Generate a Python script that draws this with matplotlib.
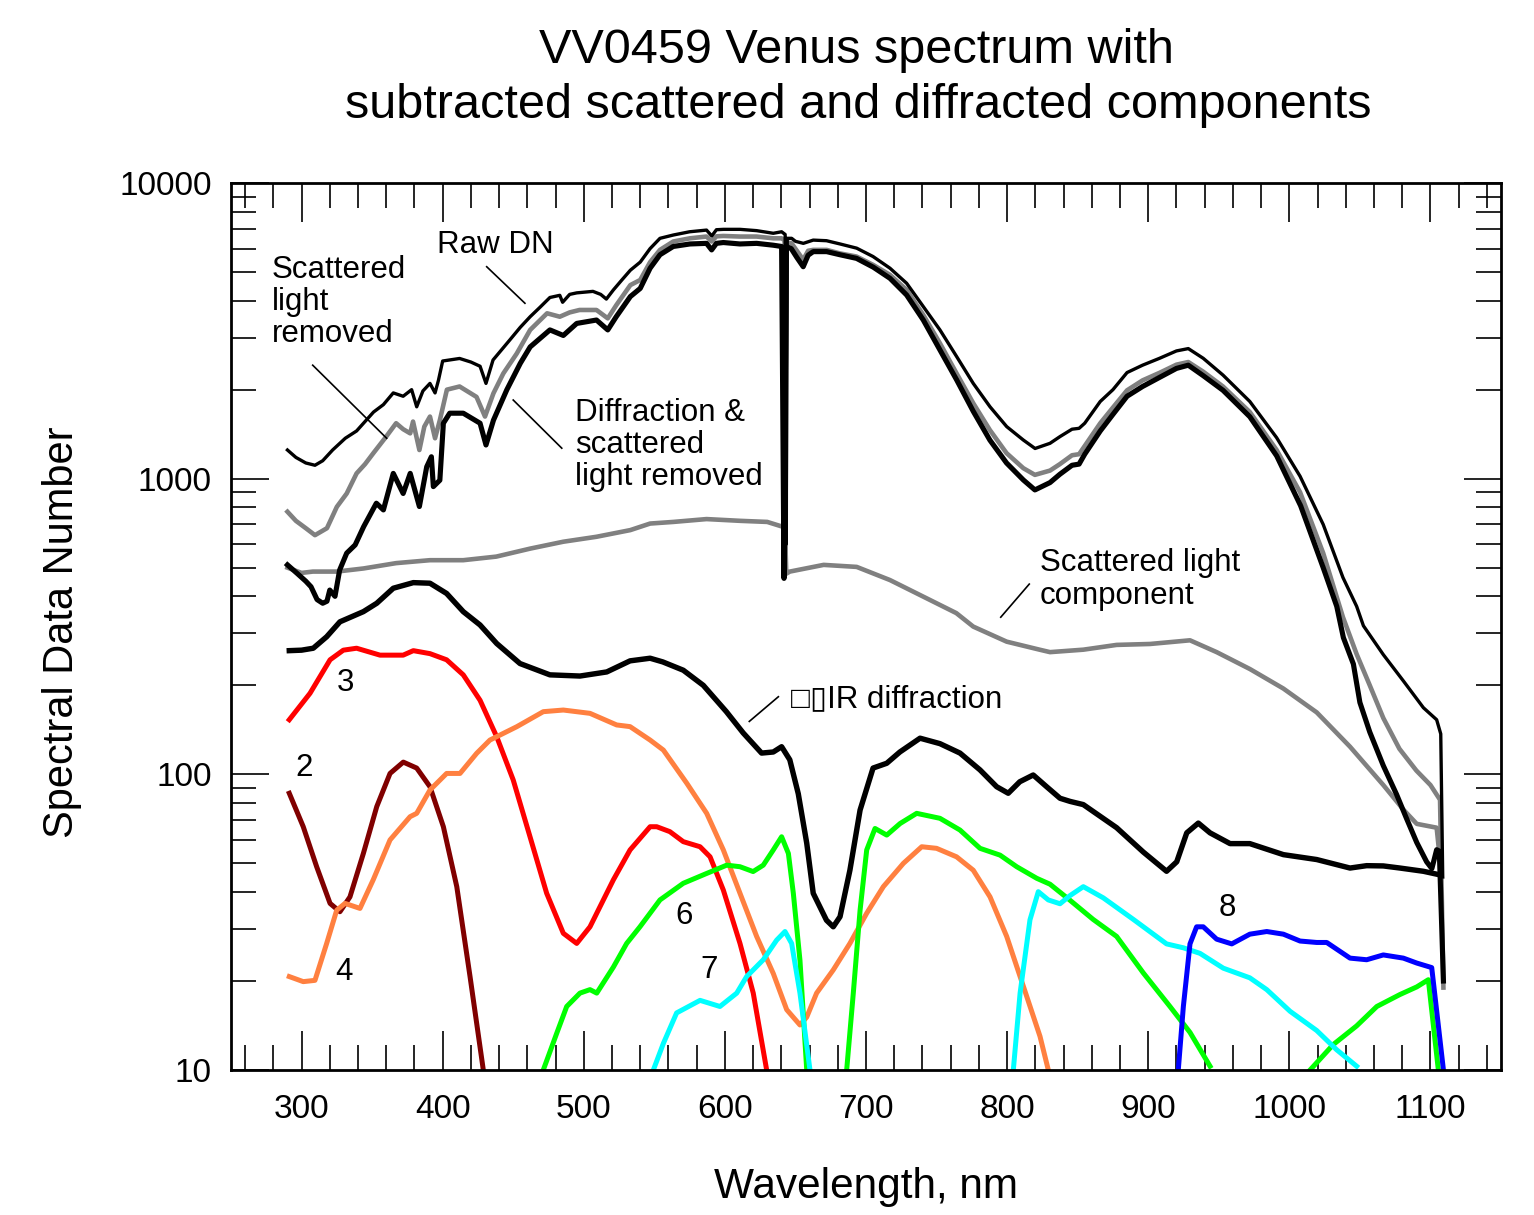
import matplotlib
matplotlib.use("Agg")
import matplotlib.pyplot as plt
from matplotlib.ticker import MultipleLocator, LogLocator, FuncFormatter, NullFormatter

plt.rcParams['font.family'] = ['Liberation Sans', 'DejaVu Sans']

# ---- spectra (wavelength nm, DN) ----
raw_wl = [290, 296, 303, 309.5, 315, 322, 331, 339, 351, 358, 365, 372, 378, 381.6, 386, 391, 394.6, 397,
          400, 412, 420, 426.5, 430.7, 435.7, 447.7, 455, 462, 469, 476, 483, 485, 490, 495, 506.5, 512, 516,
          521, 527, 533, 540, 547, 554, 563.5, 575, 587, 590.7, 594, 599, 610.7, 622.5, 634.3, 640.2, 642.7,
          643.4, 644.2, 647.3, 650, 655.6, 662.6, 672, 681.6, 693.4, 705, 717, 728.8, 740.6, 752.4, 764.3,
          776, 787.9, 799.7, 811.5, 819.8, 830.4, 837.5, 846, 851, 855, 866, 875, 885, 896, 908, 920, 928.4,
          939, 953, 972, 991, 1007.6, 1024, 1038, 1047.7, 1052.5, 1066.6, 1080.8, 1095, 1104.4, 1107.3, 1108.7]
raw_dn = [1250, 1180, 1130, 1110, 1150, 1250, 1370, 1450, 1680, 1780, 1950, 1900, 2000, 1750, 1980, 2100, 1950,
          2150, 2500, 2550, 2480, 2400, 2100, 2520, 2950, 3250, 3530, 3800, 4100, 4170, 3950, 4200, 4250, 4300,
          4200, 4050, 4350, 4700, 5070, 5400, 6000, 6500, 6670, 6840, 6930, 6620, 6950, 6970, 6970, 6900, 6760,
          6840, 6700, 600, 6500, 6500, 6350, 6250, 6410, 6380, 6220, 6020, 5640, 5150, 4580, 3820, 3185, 2585,
          2100, 1750, 1500, 1351, 1265, 1317, 1388, 1470, 1480, 1540, 1824, 2000, 2285, 2420, 2553, 2704, 2754,
          2553, 2240, 1824, 1376, 1019, 700, 463, 370, 318, 254, 207, 168, 153, 137, 45]

scat_removed_wl = [290, 296, 303, 309.5, 318, 325, 332, 339, 345, 351, 360, 367, 372, 377, 379, 383.5, 387, 391,
                   394.6, 398, 403, 412, 424, 430, 436, 443, 452.5, 462, 474, 483, 490, 497, 509, 517, 523, 533,
                   540, 547, 554, 563.4, 575.2, 587, 590.6, 594, 598.9, 610.7, 622.5, 634.3, 640.2, 642.3, 643,
                   643.8, 647.3, 651, 655.5, 659, 662.6, 672.1, 681.5, 693.3, 705.2, 717, 728.8, 740.6, 752.4,
                   764.2, 776, 787.8, 799.6, 811.5, 819.7, 830.4, 837.4, 846, 851, 855, 866, 875, 885, 896, 908,
                   920, 928.4, 939, 953, 972, 991, 1007.6, 1024, 1038, 1047.7, 1057, 1066.6, 1078, 1090, 1100,
                   1106.8, 1109.2]
scat_removed_dn = [773, 720, 680, 644, 680, 803, 891, 1042, 1120, 1222, 1388, 1540, 1470, 1423, 1560, 1250, 1500,
                   1622, 1370, 1577, 2000, 2050, 1890, 1622, 1945, 2270, 2650, 3185, 3625, 3530, 3650, 3720, 3720,
                   3485, 3860, 4515, 4700, 5400, 5940, 6340, 6500, 6590, 6340, 6600, 6620, 6590, 6590, 6500, 6500,
                   6400, 520, 6300, 6250, 5900, 5500, 5900, 5940, 5940, 5780, 5640, 5280, 4890, 4350, 3580, 2870,
                   2270, 1800, 1460, 1220, 1085, 1030, 1065, 1120, 1200, 1210, 1290, 1540, 1740, 1990, 2150, 2280,
                   2430, 2480, 2300, 2050, 1680, 1250, 900, 560, 340, 255, 200, 155, 122, 103, 92, 82, 19]

both_removed_wl = [290, 296.7, 303, 306.7, 311, 315, 318, 320, 323.7, 327, 332, 338, 344, 353, 358, 365, 372,
                   377, 383.5, 388.7, 392, 393.4, 398, 400.5, 405, 414.6, 426.5, 430.7, 436, 445.5, 455, 462,
                   476, 485.5, 495, 509, 517, 523, 533, 540, 547, 554, 563.4, 575.2, 587, 590.6, 594, 598.9,
                   610.7, 622.5, 634.3, 640.2, 641.9, 643.5, 647, 651, 655.5, 659, 662.6, 672.1, 681.5, 693.3,
                   705.2, 717, 728.8, 740.6, 752.4, 764.2, 776, 787.8, 799.6, 811.5, 819.7, 830.4, 837.4, 846,
                   851, 855, 866, 875, 885, 896, 908, 920, 928.4, 939, 953, 972, 991, 1008, 1024, 1033.6, 1038.3,
                   1045.4, 1050, 1057, 1066.6, 1076, 1083, 1090.3, 1097.3, 1101, 1104.4, 1106.3, 1109.2]
both_removed_dn = [511, 479, 450, 431, 390, 379, 385, 420, 400, 491, 560, 597, 688, 826, 784, 1042, 891, 1042,
                   805, 1097, 1186, 940, 988, 1540, 1665, 1665, 1540, 1300, 1577, 2000, 2455, 2790, 3185, 3050,
                   3350, 3440, 3185, 3530, 4130, 4400, 5150, 5720, 6100, 6220, 6250, 5940, 6250, 6290, 6220, 6250,
                   6160, 6100, 460, 6100, 6000, 5600, 5210, 5700, 5860, 5860, 5720, 5560, 5190, 4760, 4180, 3440,
                   2725, 2160, 1690, 1350, 1130, 990, 916, 970, 1035, 1110, 1120, 1210, 1450, 1650, 1900, 2050,
                   2200, 2360, 2420, 2230, 1990, 1620, 1195, 810, 500, 370, 290, 236, 175, 139, 107, 85.5, 71,
                   58.8, 50.6, 48, 55.6, 55, 20]

scat_comp_wl = [290, 300, 308, 325, 344, 367, 391, 414.6, 438, 462, 485.5, 509, 533, 547, 563.5, 587, 611, 630,
                640, 642.5, 643.5, 646, 670, 693.4, 717, 740.6, 764, 776, 799.7, 823, 830.4, 854, 877.6, 901.3,
                929.6, 948.5, 972.1, 995.8, 1019.4, 1043, 1066.6, 1080.8, 1090.3, 1104.4, 1108]
scat_comp_dn = [500, 480, 485, 485, 497, 518, 530, 530, 545, 580, 612, 636, 670, 705, 714, 730, 720, 714, 690,
                697, 477, 485, 511, 503, 454, 399, 351, 316, 281, 264, 259, 264, 274, 276, 284, 259, 227, 195,
                162, 124, 92, 76, 68, 66, 45]

ir_diff_wl = [291.3, 300, 308.3, 317.8, 327.2, 343.8, 353.3, 365, 379.2, 391, 402.8, 414.6, 426.5, 438.3, 454.8,
              476, 497.3, 516.3, 532.8, 547, 556, 570.5, 584.7, 601, 613, 626, 634.3, 640.2, 646, 652, 658,
              662.6, 672, 676.8, 681.6, 688.6, 695.8, 705, 714.7, 724, 738.3, 752.4, 766.6, 780.8, 792.6, 800.8,
              809, 818.5, 828, 837.5, 844.6, 854, 877.6, 896.5, 913, 920.2, 927.3, 935.5, 943.8, 958, 972, 995.8,
              1019.4, 1043, 1054.8, 1066.6, 1078.4, 1095, 1104]
ir_diff_dn = [262, 263, 267, 292, 328, 355, 379, 426, 445, 443, 409, 355, 320, 277, 237, 217, 215, 222, 242,
              247, 240, 225, 200, 163, 138, 118, 119, 124, 112, 86, 58.5, 39.6, 32.1, 30.5, 33, 47.4, 75.7, 105,
              109, 119, 132.5, 127, 118, 103.5, 90.8, 86.3, 94.4, 99.5, 90.8, 83, 81, 79, 66, 54.6, 47, 50.6,
              63.4, 68.4, 63.4, 58.3, 58.3, 53.5, 51.5, 48.2, 49.1, 49, 48.2, 47, 46]

# ---- individual diffraction orders ----
o2_wl = [291.3, 301.2, 310.7, 320.2, 327.2, 334.3, 343.8, 353.3, 362.7, 372.1, 381.6, 391, 400.5, 410, 419.4, 428.8]
o2_dn = [86.3, 66.5, 48.7, 36.6, 34.3, 38.5, 54, 77.8, 100.7, 110, 105, 90.8, 66.5, 41.7, 20.7, 10]

o3_wl = [291.3, 306, 320.2, 329.6, 339, 355.6, 372, 379.2, 391, 402.8, 414.6, 426.5, 438.3, 450, 461.9, 473.7,
         485.5, 495, 504.4, 521, 532.8, 547, 551.7, 561, 570.5, 582.4, 589.5, 598.9, 610.7, 620.1, 629.6]
o3_dn = [153, 188, 244, 263, 267, 253, 253, 262, 256, 244, 217, 178, 134, 95.7, 61.5, 39.6, 29, 26.8, 30.5, 44,
         55.5, 66.5, 66.5, 64, 59.2, 56.9, 52.6, 40.6, 26.8, 18.2, 10]

o4_wl = [291.3, 301.2, 309.5, 317.8, 324.9, 330.8, 341.4, 350.8, 362.7, 376.9, 381.6, 391, 402.8, 412.3, 424.1,
         433.5, 452.5, 471.3, 485.5, 504.4, 523.3, 532.8, 547, 556.4, 573, 587.1, 598.9, 610.7, 622.5, 634.3,
         643.8, 653.2, 658, 665, 676.8, 688.6, 700.5, 712.3, 726.5, 739.5, 750, 764.2, 776, 787.9, 799.7, 811.5,
         823.3, 829.2]
o4_dn = [20.7, 19.9, 20.1, 26.8, 34.7, 36.6, 35.2, 44, 60, 71.9, 73.8, 88.5, 100.7, 100.7, 117.8, 130.6, 144.9,
         162.9, 165, 160.8, 146.9, 145, 130.6, 120.8, 93.3, 73.8, 55.5, 39.6, 28.3, 21.2, 16, 14.2, 15.1, 18.2,
         21.8, 26.8, 33.9, 41.7, 50, 56.9, 56.2, 52.6, 47.4, 38.5, 28.3, 19.2, 13, 10]

green_a_wl = [471.3, 480.8, 487.9, 497.3, 504.4, 509.2, 521, 530.4, 539.8, 554, 570.5, 587, 601.3, 610.7, 620,
              627.2, 634.3, 640.2, 645, 648.5, 653.2, 658]
green_a_dn = [10, 13.3, 16.4, 18.2, 18.7, 18.2, 22.3, 26.8, 30.5, 37.6, 42.8, 46.2, 49.3, 48.7, 46.9, 49.3, 55.5,
              61.5, 54, 39.6, 23.5, 10]
green_b_wl = [686.3, 691, 695.8, 700.5, 706.4, 714.7, 724.2, 735.9, 752.4, 766.6, 780.8, 795, 806.8, 821, 830.4,
              844.6, 861, 877.6, 896.5, 915.4, 929.6, 943.8]
green_b_dn = [10, 18.2, 34.7, 55.5, 65.6, 62.3, 68.2, 73.8, 71, 64.8, 56.2, 53.3, 48.7, 44.5, 42.5, 37.5, 32.3,
              28.3, 21.3, 16.4, 13.4, 10.3]
green_c_wl = [1014.7, 1031.2, 1047.7, 1062, 1078.4, 1090.3, 1098.5, 1105.6]
green_c_dn = [10, 12.2, 14.1, 16.4, 18, 19.1, 20.2, 10]

cyan_a_wl = [549.3, 556.4, 565.8, 582.4, 596.5, 608.4, 615.4, 627.2, 636.7, 642.6, 647.3, 653.2, 660.3]
cyan_a_dn = [10, 12.3, 15.6, 17.2, 16.4, 18.2, 20.7, 23.6, 27.5, 29.4, 26.8, 18.2, 10]
cyan_b_wl = [804.4, 809.2, 816.2, 822.1, 829.2, 837.5, 844.6, 854, 868.2, 889.5, 913, 924.9, 936.7, 953.2, 972,
             984, 1000.5, 1019.4, 1033.6, 1047.7]
cyan_b_dn = [10, 18.2, 32.2, 40.1, 37.6, 36.5, 38.9, 41.7, 38.2, 32.3, 26.7, 25.9, 24.8, 22.1, 20.5, 18.7, 15.8,
             13.6, 11.7, 10.3]

blue_wl = [921.3, 924.9, 929.6, 934.3, 939, 948.5, 959.2, 972, 984, 995.8, 1007.6, 1019.4, 1026.5, 1043, 1054.8,
           1066.6, 1080.8, 1090.3, 1100.9, 1109.2]
blue_dn = [10, 16.4, 26.7, 30.5, 30.5, 27.7, 26.7, 28.8, 29.4, 28.8, 27.3, 27, 27, 23.9, 23.6, 24.5, 23.9, 23,
           22.2, 10]

order_labels = ["2", "3", "4", "6", "7", "8"]
order_label_wl = [301.7, 330.8, 330.1, 571, 588.7, 955.8]
order_label_dn = [105, 204, 21.4, 33.2, 21.8, 35.3]

fig = plt.figure(figsize=(15.34, 12.15), dpi=100)
ax = fig.add_axes([231 / 1534, 145 / 1215, 1270 / 1534, 887 / 1215])

comp_lw = 3.6
for wl, dn, col in [(o2_wl, o2_dn, "#800000"), (o3_wl, o3_dn, "#ff0000"), (o4_wl, o4_dn, "#ff8040"),
                    (green_a_wl, green_a_dn, "#00ff00"), (green_b_wl, green_b_dn, "#00ff00"),
                    (green_c_wl, green_c_dn, "#00ff00"), (cyan_a_wl, cyan_a_dn, "#00ffff"),
                    (cyan_b_wl, cyan_b_dn, "#00ffff"), (blue_wl, blue_dn, "#0000ff")]:
    ax.plot(wl, dn, color=col, lw=comp_lw, solid_joinstyle="round")

ax.plot(ir_diff_wl, ir_diff_dn, color="k", lw=3.9, solid_joinstyle="round")
ax.plot(scat_comp_wl, scat_comp_dn, color="#808080", lw=3.3)
ax.plot(scat_removed_wl, scat_removed_dn, color="#808080", lw=3.3)
ax.plot(both_removed_wl, both_removed_dn, color="k", lw=3.7)
ax.plot(raw_wl, raw_dn, color="k", lw=2.4)

ax.set_yscale("log")
ax.set_xlim(250, 1150)
ax.set_ylim(10, 10000)
ax.xaxis.set_major_locator(MultipleLocator(100))
ax.xaxis.set_minor_locator(MultipleLocator(20))
ax.yaxis.set_major_locator(LogLocator(base=10))
ax.yaxis.set_minor_locator(LogLocator(base=10, subs=range(2, 10)))
ax.yaxis.set_major_formatter(FuncFormatter(lambda v, p: f"{v:.0f}"))
ax.yaxis.set_minor_formatter(NullFormatter())
ax.tick_params(which="both", direction="in", top=True, right=True, width=1.2, labelsize=24)
ax.tick_params(axis="x", which="major", length=28, pad=17)
ax.tick_params(axis="x", which="minor", length=18)
ax.tick_params(axis="y", which="major", length=27, pad=14)
ax.tick_params(axis="y", which="minor", length=18)
for s in ax.spines.values():
    s.set_linewidth(2)

# annotations
txt = dict(fontsize=22.5, ha="left", va="center", linespacing=1.1)
ax.text(396, 6170, "Raw DN", **txt)
ax.plot([431.2, 458.3], [5210, 3920], color="k", lw=1.2)
ax.text(279, 3955, "Scattered\nlight\nremoved", **txt)
ax.plot([307.9, 360.3], [2420, 1370], color="k", lw=1.2)
ax.text(493.8, 1300, "Diffraction &\nscattered\nlight removed", **txt)
ax.plot([450, 484.4], [1845, 1268], color="k", lw=1.2)
ax.text(823.3, 456, "Scattered light\ncomponent", **txt)
ax.plot([815.7, 795.5], [440, 340], color="k", lw=1.2)
ax.text(646.9, 180, "\u25a1\u25afIR diffraction", **txt)
ax.plot([637.9, 617.3], [183, 151], color="k", lw=1.2)
for lab, x, y in zip(order_labels, order_label_wl, order_label_dn):
    ax.text(x, y, lab, fontsize=22.5, ha="center", va="center")

fig.text(856 / 1534, 1 - 63 / 1215, "VV0459 Venus spectrum with", fontsize=35, ha="center", va="baseline")
fig.text(858 / 1534, 1 - 118 / 1215, "subtracted scattered and diffracted components", fontsize=35,
         ha="center", va="baseline")
fig.text(866 / 1534, 1 - 1198 / 1215, "Wavelength, nm", fontsize=30.5, ha="center", va="baseline")
fig.text(62 / 1534, 1 - 632 / 1215, "Spectral Data Number", fontsize=30, ha="center", va="center",
         rotation=90)

fig.savefig("out.png", dpi=100)
